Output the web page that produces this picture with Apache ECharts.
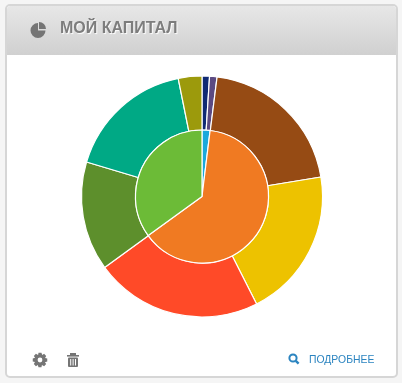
<!DOCTYPE html>
<html><head><meta charset="utf-8">
<style>html,body{margin:0;padding:0;background:#f5f5f5}#c{width:402px;height:383px}</style>
<script src="https://cdn.jsdelivr.net/npm/echarts@6/dist/echarts.min.js"></script>
</head><body><div id="c"></div>
<script>
const titleText = 'МОЙ КАПИТАЛ';
const moreText = 'ПОДРОБНЕЕ';
const outerValues = [3.6, 3.6, 73.5, 72.4, 80.9, 52.7, 62, 11.4];
const outerColors = ['#0f2a74', '#5b4a82', '#964b14', '#edc200', '#ff4a28', '#5d8f2c', '#00a985', '#9c9a0c'];
const innerValues = [7, 227, 126];
const innerColors = ['#1ba8dc', '#f07a22', '#6cbb37'];

const grey = '#757575', blue = '#2b84c0';
const gearPts = [];
for (let i = 0; i < 8; i++) {
  const a = i * Math.PI / 4;
  [[-0.2, 7.4], [0.2, 7.4], [0.42, 5.4]].forEach(p =>
    gearPts.push([40 + p[1] * Math.sin(a + p[0]), 360 - p[1] * Math.cos(a + p[0])]));
}
const chart = echarts.init(document.getElementById('c'), null, {renderer: 'canvas'});
chart.setOption({
  animation: false,
  backgroundColor: '#f5f5f5',
  graphic: [
    {type: 'rect', z: 0, shape: {x: 6, y: 5, width: 391, height: 372, r: 4}, style: {fill: '#fff', stroke: '#d6d6d6', lineWidth: 2}},
    {type: 'rect', z: 0, shape: {x: 7, y: 6, width: 389, height: 49, r: [3, 3, 0, 0]}, style: {
      fill: new echarts.graphic.LinearGradient(0, 0, 0, 1, [{offset: 0, color: '#e7e7e7'}, {offset: 1, color: '#d0d0d0'}])}},
    {type: 'sector', z: 5, shape: {cx: 38, cy: 30.5, r: 7.5, r0: 0, startAngle: 0, endAngle: Math.PI * 1.5, clockwise: true}, style: {fill: grey}},
    {type: 'sector', z: 5, shape: {cx: 39, cy: 29, r: 7, r0: 0, startAngle: -Math.PI / 2, endAngle: 0, clockwise: true}, style: {fill: grey}},
    {type: 'text', z: 5, left: 60, top: 21, style: {text: titleText, fill: '#7d7d7d', font: 'bold 16px "Liberation Sans", Arial, sans-serif',
      textShadowColor: '#ffffff', textShadowBlur: 1, textShadowOffsetX: 1, textShadowOffsetY: 1}},
    {type: 'polygon', z: 5, shape: {points: gearPts}, style: {fill: grey}},
    {type: 'circle', z: 6, shape: {cx: 40, cy: 360, r: 2.4}, style: {fill: '#fff'}},
    {type: 'rect', z: 5, shape: {x: 67, y: 355, width: 12, height: 1.6}, style: {fill: grey}},
    {type: 'rect', z: 5, shape: {x: 70, y: 353, width: 6, height: 2}, style: {fill: grey}},
    {type: 'rect', z: 5, shape: {x: 68, y: 357.5, width: 10, height: 9.5, r: 1}, style: {fill: grey}},
    {type: 'rect', z: 6, shape: {x: 70.2, y: 359, width: 1, height: 6.5}, style: {fill: '#fff'}},
    {type: 'rect', z: 6, shape: {x: 72.6, y: 359, width: 1, height: 6.5}, style: {fill: '#fff'}},
    {type: 'rect', z: 6, shape: {x: 75, y: 359, width: 1, height: 6.5}, style: {fill: '#fff'}},
    {type: 'circle', z: 5, shape: {cx: 293, cy: 358, r: 3.6}, style: {fill: 'none', stroke: blue, lineWidth: 2}},
    {type: 'line', z: 5, shape: {x1: 295.8, y1: 360.8, x2: 298.6, y2: 363.6}, style: {stroke: blue, lineWidth: 2.4}},
    {type: 'text', z: 5, left: 309, top: 355, style: {text: moreText, fill: blue, font: '10.4px "Liberation Sans", Arial, sans-serif'}}
  ],
  series: [
    {type: 'pie', silent: true, center: [202, 196.5], radius: [66.5, 120.5], startAngle: 90, clockwise: true, sort: null,
      label: {show: false}, labelLine: {show: false}, itemStyle: {borderColor: '#fff', borderWidth: 1.2},
      data: outerValues.map((v, i) => ({value: v, itemStyle: {color: outerColors[i]}}))},
    {type: 'pie', silent: true, center: [202, 196.5], radius: [0, 66.5], startAngle: 90, clockwise: true, sort: null,
      label: {show: false}, labelLine: {show: false}, itemStyle: {borderColor: '#fff', borderWidth: 1.2},
      data: innerValues.map((v, i) => ({value: v, itemStyle: {color: innerColors[i]}}))}
  ]
});
</script></body></html>
